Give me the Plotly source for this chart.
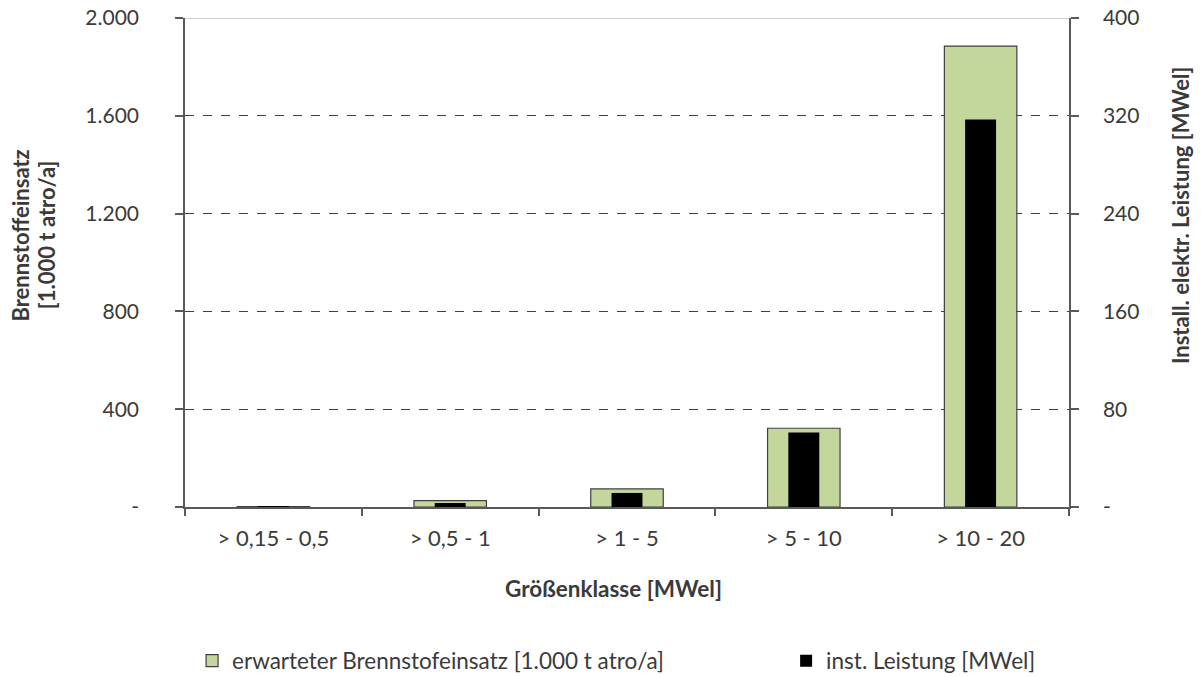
import plotly.graph_objects as go

# Größenklassen und Werte
klassen = ["> 0,15 - 0,5", "> 0,5 - 1", "> 1 - 5", "> 5 - 10", "> 10 - 20"]
brennstoff = [2, 26, 74, 322, 1885]        # 1.000 t atro/a
leistung = [0.4, 3.3, 11.5, 61, 317]       # MWel

left_ticks = [0, 400, 800, 1200, 1600, 2000]
left_text = ["-", "400", "800", "1.200", "1.600", "2.000"]
right_ticks = [0, 80, 160, 240, 320, 400]
right_text = ["-", "80", "160", "240", "320", "400"]

FONT = "Lato"
TXT = "#3a3a3a"
AXIS = "#595959"
FS_Y = 21
FS_X = 22
FS_LEG = 22.5
FS_TITLE = 22

fig = go.Figure()
fig.add_trace(go.Bar(
    x=klassen, y=brennstoff, name="erwarteter Brennstofeinsatz [1.000 t atro/a]",
    marker=dict(color="#C3D69B", line=dict(color="#404040", width=1.2)),
    width=0.41, yaxis="y", legend="legend",
))
fig.add_trace(go.Bar(
    x=klassen, y=leistung, name="inst. Leistung [MWel]",
    marker=dict(color="#000000", line=dict(width=0)),
    width=0.175, yaxis="y2", legend="legend2",
))

legend_style = dict(orientation="h", yanchor="middle", xanchor="left",
                    font=dict(family=FONT, size=FS_LEG, color=TXT),
                    bgcolor="rgba(0,0,0,0)")

fig.update_layout(
    width=1201, height=677,
    margin=dict(l=185, r=132, t=18, b=170, autoexpand=False),
    paper_bgcolor="white", plot_bgcolor="white",
    barmode="overlay",
    font=dict(family=FONT, size=FS_Y, color=TXT),
    showlegend=True,
    legend=dict(x=0.008, y=-0.315, **legend_style),
    legend2=dict(x=0.68, y=-0.315, **legend_style),
    xaxis=dict(
        type="category", showline=True, linecolor=AXIS, linewidth=1.5,
        ticks="outside", tickson="boundaries", ticklen=7, tickcolor=AXIS, tickwidth=1.5,
        showgrid=False, tickfont=dict(size=FS_X, color=TXT), ticklabelstandoff=11,
        range=[-0.5, 4.5],
    ),
    yaxis=dict(
        range=[0, 2000], tickvals=left_ticks, ticktext=left_text,
        showline=True, linecolor=AXIS, linewidth=1.5,
        ticks="outside", ticklen=8, tickcolor=AXIS, tickwidth=1.5,
        showgrid=True, gridcolor="#404040", gridwidth=1, griddash="dash",
        zeroline=False, tickfont=dict(size=FS_Y, color=TXT), ticklabelstandoff=32,
    ),
    yaxis2=dict(
        range=[0, 400], tickvals=right_ticks, ticktext=right_text,
        overlaying="y", side="right",
        showline=True, linecolor=AXIS, linewidth=1.5,
        ticks="outside", ticklen=8, tickcolor=AXIS, tickwidth=1.5,
        showgrid=False, zeroline=False, tickfont=dict(size=FS_Y, color=TXT),
        ticklabelstandoff=20,
    ),
)

# Obere Begrenzung der Zeichenfläche
fig.add_shape(type="line", xref="paper", yref="y", x0=0, x1=1, y0=2000, y1=2000,
              line=dict(color="#BFBFBF", width=1.5), layer="below")

# Achsentitel
title_font = dict(family=FONT, size=FS_TITLE, color=TXT)
fig.add_annotation(text="<b>Brennstoffeinsatz</b>", xref="paper", yref="paper",
                   x=-0.1861, y=0.556, xanchor="center", yanchor="middle", textangle=-90,
                   showarrow=False, font=title_font)
fig.add_annotation(text="<b>[1.000 t atro/a]</b>", xref="paper", yref="paper",
                   x=-0.1572, y=0.556, xanchor="center", yanchor="middle", textangle=-90,
                   showarrow=False, font=title_font)
fig.add_annotation(text="<b>Install. elektr. Leistung [MWel]</b>", xref="paper", yref="paper",
                   x=1.1256, y=0.597, xanchor="center", yanchor="middle", textangle=-90,
                   showarrow=False, font=title_font)
fig.add_annotation(text="<b>Größenklasse [MWel]</b>", xref="paper", yref="paper",
                   x=0.4847, y=-0.166, xanchor="center", yanchor="middle",
                   showarrow=False, font=dict(family=FONT, size=22.5, color=TXT))

fig.write_html("out.html")
